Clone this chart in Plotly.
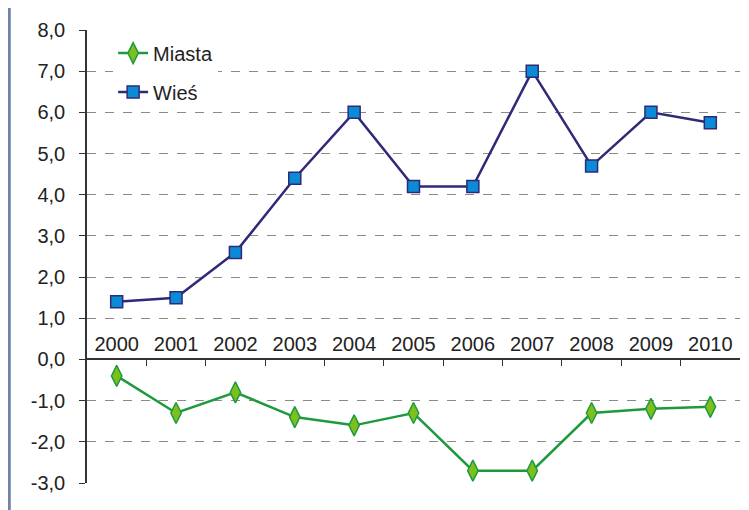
import plotly.graph_objects as go

years = ["2000", "2001", "2002", "2003", "2004", "2005",
         "2006", "2007", "2008", "2009", "2010"]
miasta = [-0.4, -1.3, -0.8, -1.4, -1.6, -1.3, -2.7, -2.7, -1.3, -1.2, -1.15]
wies = [1.4, 1.5, 2.6, 4.4, 6.0, 4.2, 4.2, 7.0, 4.7, 6.0, 5.75]
y_ticks = [-3, -2, -1, 0, 1, 2, 3, 4, 5, 6, 7, 8]

FONT = "Liberation Sans, Arial, sans-serif"

fig = go.Figure()

fig.add_trace(go.Scatter(
    x=years, y=miasta, name="Miasta", mode="lines+markers",
    line=dict(color="#1e9a3c", width=2.5),
    marker=dict(symbol="diamond-tall", size=15, color="#7cbf1e",
                line=dict(color="#1e9a3c", width=1.5)),
    legendgroup="a",
))
fig.add_trace(go.Scatter(
    x=years, y=wies, name="Wieś", mode="lines+markers",
    line=dict(color="#2e2a78", width=2.5),
    marker=dict(symbol="square", size=12, color="#0b8ad6",
                line=dict(color="#2e2a78", width=1.5)),
    legendgroup="b",
))

# the page body has an 8px margin, so the figure is sized to fit inside it
fig.update_layout(
    width=741, height=502,
    margin=dict(l=79, r=9, t=22, b=27),
    paper_bgcolor="white", plot_bgcolor="white",
    font=dict(family=FONT, size=20, color="#222222"),
    showlegend=True,
    legend=dict(
        x=0.04, y=0.992, xanchor="left", yanchor="top",
        bgcolor="white", font=dict(size=20),
        tracegroupgap=10, traceorder="grouped",
    ),
    shapes=[
        dict(type="line", xref="paper", yref="paper",
             x0=-0.119, x1=-0.119, y0=-0.1, y1=1.1,
             line=dict(color="#7282aa", width=3)),
    ],
)

fig.update_xaxes(
    type="category", range=[-0.5, 10.5], automargin=False,
    anchor="free", position=3 / 11, side="top",
    showline=True, linecolor="#333333", linewidth=1.5,
    ticks="inside", ticklen=6, tickcolor="#333333",
    tickson="boundaries", ticklabelstandoff=0,
    showgrid=False, zeroline=False,
    tickfont=dict(size=20),
)
fig.update_yaxes(
    range=[-3, 8], automargin=False,
    tickvals=y_ticks,
    ticktext=[f"{v:.1f}".replace(".", ",") for v in y_ticks],
    showline=True, linecolor="#333333", linewidth=1.5,
    ticks="outside", ticklen=6, tickcolor="#333333",
    ticklabelstandoff=10,
    showgrid=True, gridcolor="#8a8a8a", griddash="dash", gridwidth=1,
    zeroline=False,
    tickfont=dict(size=20),
)

fig.write_html("out.html")
